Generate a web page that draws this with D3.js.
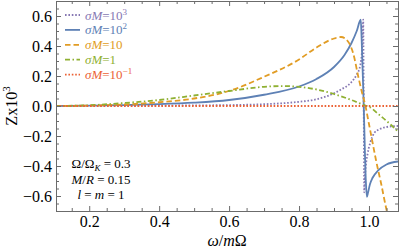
<!DOCTYPE html>
<html>
<head>
<meta charset="utf-8">
<script src="https://cdn.jsdelivr.net/npm/d3@7"></script>
<style>
  body { margin: 0; background: #fff; }
  svg { display: block; }
  svg text { font-family: "Liberation Serif", "Times New Roman", Times, serif !important; }
</style>
</head>
<body>
<svg id="chart" width="399" height="251"></svg>
<script>
// series (omega/mOmega, Z x 10^3)
var purpleX = [0.105, 0.3, 0.5, 0.6, 0.7, 0.75, 0.8, 0.85, 0.9, 0.92, 0.95, 0.965, 0.975, 0.981, 0.9835, 0.985, 0.9865, 0.988, 0.991, 0.996, 1.003, 1.015, 1.03, 1.05, 1.083];
var purpleY = [0, 0.001, 0.004, 0.006, 0.012, 0.018, 0.028, 0.045, 0.085, 0.11, 0.16, 0.21, 0.27, 0.4, 0.575, 0.0, -0.575, -0.5, -0.4, -0.32, -0.25, -0.18, -0.155, -0.14, -0.133];

var blueX = [0.105, 0.2, 0.3, 0.4, 0.5, 0.6, 0.7, 0.8, 0.85, 0.9, 0.93, 0.95, 0.965, 0.9765, 0.979, 0.985, 0.991, 0.994, 0.997, 1.003, 1.01, 1.026, 1.05, 1.083];
var blueY = [0, 0.002, 0.006, 0.012, 0.022, 0.04, 0.075, 0.13, 0.18, 0.26, 0.34, 0.42, 0.5, 0.575, 0.45, 0.0, -0.5, -0.605, -0.58, -0.52, -0.48, -0.43, -0.39, -0.37];

var orangeX = [0.105, 0.2, 0.3, 0.4, 0.5, 0.6, 0.7, 0.8, 0.85, 0.9, 0.92, 0.94, 0.955, 0.97, 0.98, 0.99, 1.0, 1.01, 1.02, 1.035, 1.05, 1.06];
var orangeY = [0, 0.003, 0.01, 0.025, 0.05, 0.1, 0.195, 0.31, 0.39, 0.45, 0.46, 0.43, 0.35, 0.19, 0.09, 0.0, -0.12, -0.24, -0.36, -0.52, -0.69, -0.78];

var greenX = [0.105, 0.2, 0.3, 0.4, 0.5, 0.6, 0.7, 0.75, 0.8, 0.85, 0.9, 0.95, 0.99, 1.0, 1.03, 1.06, 1.083];
var greenY = [0, 0.005, 0.02, 0.04, 0.07, 0.1, 0.128, 0.133, 0.128, 0.11, 0.08, 0.04, 0.003, -0.005, -0.06, -0.12, -0.17];

var redX = [0.105, 1.083];
var redY = [0, 0];

var xTicks = [0.2, 0.4, 0.6, 0.8, 1.0];
var yTicks = [-0.6, -0.4, -0.2, 0.0, 0.2, 0.4, 0.6];

var svg = d3.select("#chart");
var pLeft = 56, pRight = 398, pTop = 1, pBottom = 211;

var x = d3.scaleLinear().domain([0.105, 1.083]).range([pLeft, pRight]);
var y = d3.scaleLinear().domain([-0.7, 0.7]).range([pBottom, pTop]);

var xMinor = d3.range(0.15, 1.09, 0.05).filter(function(v) { return Math.abs(v * 5 - Math.round(v * 5)) > 1e-6; });
var yMinor = d3.range(-0.65, 0.7, 0.05).filter(function(v) { return Math.abs(v * 5 - Math.round(v * 5)) > 1e-6; });

svg.append("clipPath").attr("id", "plot")
  .append("rect").attr("x", pLeft).attr("y", 0).attr("width", pRight - pLeft).attr("height", pBottom);

var series = [
  { xs: purpleX, ys: purpleY, color: "#8778B3", dash: "1.6,1.8", label: "10", sup: "3" },
  { xs: blueX, ys: blueY, color: "#5E81B5", dash: null, label: "10", sup: "2" },
  { xs: orangeX, ys: orangeY, color: "#E19C24", dash: "5.5,3", label: "10", sup: "" },
  { xs: greenX, ys: greenY, color: "#8FB032", dash: "5,2.5,1.5,2.5", label: "1", sup: "" },
  { xs: redX, ys: redY, color: "#EB6235", dash: "1.6,1.8", label: "10", sup: "\u22121" }
];

var line = d3.line()
  .x(function(d) { return x(d[0]); })
  .y(function(d) { return y(d[1]); })
  .curve(d3.curveMonotoneX);

svg.append("g").attr("clip-path", "url(#plot)")
  .selectAll("path").data(series).enter().append("path")
  .attr("d", function(s) { return line(d3.zip(s.xs, s.ys)); })
  .attr("fill", "none")
  .attr("stroke", function(s) { return s.color; })
  .attr("stroke-width", 1.8)
  .attr("stroke-dasharray", function(s) { return s.dash; });

// frame with inward ticks on all sides
var frameColor = "#6b6b6b";
function styleAxis(g) {
  g.attr("font-family", null);
  g.select(".domain").attr("stroke", frameColor);
  g.selectAll(".tick line").attr("stroke", frameColor);
  g.selectAll("text").attr("font-size", 16).attr("fill", "#000");
}

svg.append("g").attr("transform", "translate(0," + pBottom + ")")
  .call(d3.axisBottom(x).tickValues(xTicks).tickSize(-5).tickPadding(5).tickFormat(d3.format(".1f")))
  .call(styleAxis);
svg.append("g").attr("transform", "translate(0," + pBottom + ")")
  .call(d3.axisBottom(x).tickValues(xMinor).tickSize(-3).tickFormat(""))
  .call(styleAxis);
svg.append("g").attr("transform", "translate(0," + pTop + ")")
  .call(d3.axisTop(x).tickValues(xTicks).tickSize(-5).tickFormat(""))
  .call(styleAxis);
svg.append("g").attr("transform", "translate(0," + pTop + ")")
  .call(d3.axisTop(x).tickValues(xMinor).tickSize(-3).tickFormat(""))
  .call(styleAxis);

svg.append("g").attr("transform", "translate(" + pLeft + ",0)")
  .call(d3.axisLeft(y).tickValues(yTicks).tickSize(-5).tickPadding(4).tickFormat(d3.format(".1f")))
  .call(styleAxis);
svg.append("g").attr("transform", "translate(" + pLeft + ",0)")
  .call(d3.axisLeft(y).tickValues(yMinor).tickSize(-3).tickFormat(""))
  .call(styleAxis);
svg.append("g").attr("transform", "translate(" + pRight + ",0)")
  .call(d3.axisRight(y).tickValues(yTicks).tickSize(-5).tickFormat(""))
  .call(styleAxis);
svg.append("g").attr("transform", "translate(" + pRight + ",0)")
  .call(d3.axisRight(y).tickValues(yMinor).tickSize(-3).tickFormat(""))
  .call(styleAxis);

// axis titles
var yl = svg.append("text")
  .attr("transform", "translate(17,106) rotate(-90)")
  .attr("text-anchor", "middle")
  .attr("font-size", 16);
yl.append("tspan").text("Zx10");
yl.append("tspan").attr("font-size", 11).attr("dy", -7).text("3");

var xl = svg.append("text")
  .attr("x", 227).attr("y", 246)
  .attr("text-anchor", "middle")
  .attr("font-size", 16);
xl.append("tspan").attr("font-style", "italic").text("\u03c9");
xl.append("tspan").text("/");
xl.append("tspan").attr("font-style", "italic").text("m");
xl.append("tspan").text("\u03a9");

// legend
var leg = svg.append("g").selectAll("g").data(series).enter().append("g")
  .attr("transform", function(d, i) { return "translate(65," + (15 + i * 14.9) + ")"; });
leg.append("line")
  .attr("x1", 0).attr("x2", 15).attr("y1", 0).attr("y2", 0)
  .attr("stroke", function(d) { return d.color; })
  .attr("stroke-width", 1.8)
  .attr("stroke-dasharray", function(d) { return d.dash; });
var lt = leg.append("text")
  .attr("x", 20).attr("y", 4.5)
  .attr("font-size", 13)
  .attr("fill", function(d) { return d.color; });
lt.append("tspan").attr("font-style", "italic").text("\u03c3M");
lt.append("tspan").text(function(d) { return "=" + d.label; });
lt.append("tspan").attr("font-size", 9).attr("dy", -5).text(function(d) { return d.sup; });

// parameters note
var note = svg.append("g").attr("font-size", 13).attr("text-anchor", "middle");
var n1 = note.append("text").attr("x", 101).attr("y", 168);
n1.append("tspan").text("\u03a9/\u03a9");
n1.append("tspan").attr("font-size", 9).attr("dy", 3).attr("font-style", "italic").text("K");
n1.append("tspan").attr("dy", -3).text(" = 0.3");
var n2 = note.append("text").attr("x", 101).attr("y", 184);
n2.append("tspan").attr("font-style", "italic").text("M");
n2.append("tspan").text("/");
n2.append("tspan").attr("font-style", "italic").text("R");
n2.append("tspan").text(" = 0.15");
var n3 = note.append("text").attr("x", 101).attr("y", 199);
n3.append("tspan").attr("font-style", "italic").text("l");
n3.append("tspan").text(" = ");
n3.append("tspan").attr("font-style", "italic").text("m");
n3.append("tspan").text(" = 1");
</script>
</body>
</html>
